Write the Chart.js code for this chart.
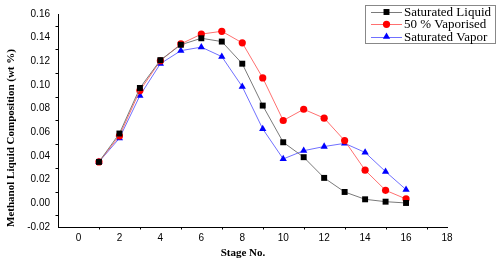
<!DOCTYPE html>
<html><head><meta charset="utf-8">
<script src="https://cdn.jsdelivr.net/npm/chart.js@4/dist/chart.umd.min.js"></script>
<style>html,body{margin:0;padding:0;background:#fff}#w{width:500px;height:259px}</style>
</head><body><div id="w"><canvas id="c"></canvas></div>
<script>
const stages = [1,2,3,4,5,6,7,8,9,10,11,12,13,14,15,16];
const satLiquid = [0.035,0.059,0.0975,0.121,0.134,0.1395,0.1367,0.118,0.0826,0.0516,0.039,0.0215,0.0096,0.0034,0.0014,0.0003];
const vaporised50 = [0.035,0.057,0.0953,0.1205,0.1347,0.143,0.1454,0.1356,0.106,0.070,0.0795,0.072,0.053,0.028,0.011,0.0037];
const satVapor = [0.035,0.055,0.091,0.118,0.129,0.132,0.124,0.0986,0.0629,0.0375,0.0445,0.048,0.0507,0.043,0.0268,0.0116];
const xTicks = [0,2,4,6,8,10,12,14,16,18];
const yTicks = [-0.02,0,0.02,0.04,0.06,0.08,0.10,0.12,0.14,0.16];
const seriesNames = ['Saturated Liquid','50 % Vaporised','Saturated Vapor'];
const xTitle = 'Stage No.';
const yTitle = 'Methanol Liquid Composition (wt %)';

const pts = arr => arr.map((v,i)=>({x:stages[i],y:v}));
const styles = [
  {line:'#7a7a7a', fill:'#000000', ps:'rect', r:4.2},
  {line:'#ff7070', fill:'#ff0000', ps:'circle', r:3.6},
  {line:'#7070ff', fill:'#0000ff', ps:'triangle', r:4.2}
];
const dataArr = [satLiquid, vaporised50, satVapor];

const extras = {
  id:'extras',
  afterDraw(chart){
    const ctx = chart.ctx, xs = chart.scales.x, ys = chart.scales.y, a = chart.chartArea;
    ctx.save(); ctx.strokeStyle='#000'; ctx.lineWidth=1;
    for(let v=1; v<18; v+=2){ const px=Math.round(xs.getPixelForValue(v))+0.5; ctx.beginPath(); ctx.moveTo(px,a.bottom); ctx.lineTo(px,a.bottom+2.5); ctx.stroke(); }
    for(let i=0;i<9;i++){ const v=-0.01+i*0.02; const py=Math.round(ys.getPixelForValue(v))+0.5; ctx.beginPath(); ctx.moveTo(a.left,py); ctx.lineTo(a.left-2.5,py); ctx.stroke(); }
    // axis titles
    ctx.fillStyle='#000';
    ctx.font='bold 11px "Liberation Serif", "Times New Roman", serif';
    ctx.textAlign='center'; ctx.textBaseline='middle';
    ctx.fillText(xTitle, 243, 253);
    ctx.save(); ctx.translate(11,138); ctx.rotate(-Math.PI/2);
    ctx.fillText(yTitle, 0, 0); ctx.restore();
    // legend
    const x0=365, y0=5, w=130, h=38;
    ctx.fillStyle='#fff'; ctx.fillRect(x0,y0,w,h);
    ctx.strokeStyle='#888'; ctx.lineWidth=1; ctx.strokeRect(x0+0.5,y0+0.5,w,h);
    ctx.font='13px "Liberation Serif", "Times New Roman", serif';
    ctx.textAlign='left'; ctx.textBaseline='middle';
    seriesNames.forEach((n,i)=>{
      const yy = y0+7+i*12.3;
      const s = styles[i];
      ctx.strokeStyle=s.line; ctx.beginPath(); ctx.moveTo(371,Math.round(yy)+0.5); ctx.lineTo(402,Math.round(yy)+0.5); ctx.stroke();
      ctx.fillStyle=s.fill;
      Chart.helpers.drawPoint(ctx,{pointStyle:s.ps,radius:s.r,borderWidth:0,rotation:0},386.5,yy);
      ctx.fillStyle='#000'; ctx.fillText(n,404,yy+0.5);
    });
    ctx.restore();
  }
};

new Chart(document.getElementById('c'),{
  type:'line',
  data:{datasets: dataArr.map((arr,i)=>({
    label:seriesNames[i], data:pts(arr), borderColor:styles[i].line, borderWidth:1,
    pointStyle:styles[i].ps, pointRadius:styles[i].r, pointBackgroundColor:styles[i].fill,
    pointBorderColor:styles[i].fill, pointBorderWidth:0, tension:0, fill:false
  }))},
  options:{
    responsive:true, maintainAspectRatio:false, animation:false,
    layout:{padding:{left:0,right:53,top:14,bottom:0}},
    plugins:{legend:{display:false}, tooltip:{enabled:false}},
    scales:{
      x:{type:'linear', min:-1, max:18,
        afterBuildTicks: s=>{ s.ticks = xTicks.map(v=>({value:v})); },
        afterFit: s=>{ s.height = 32; },
        grid:{display:false, drawTicks:true, tickLength:4, tickColor:'#000'},
        border:{color:'#000', width:1},
        ticks:{color:'#000', padding:1, font:{family:'"Liberation Sans", Arial, sans-serif', size:10}, maxRotation:0},
        title:{display:false}
      },
      y:{type:'linear', min:-0.02, max:0.16,
        afterBuildTicks: s=>{ s.ticks = yTicks.map(v=>({value:v})); },
        afterFit: s=>{ s.width = 58; },
        grid:{display:false, drawTicks:true, tickLength:5, tickColor:'#000'},
        border:{color:'#000', width:1},
        ticks:{color:'#000', padding:3, font:{family:'"Liberation Sans", Arial, sans-serif', size:10}, callback:v=>v.toFixed(2)},
        title:{display:false}
      }
    }
  },
  plugins:[extras]
});
</script></body></html>
